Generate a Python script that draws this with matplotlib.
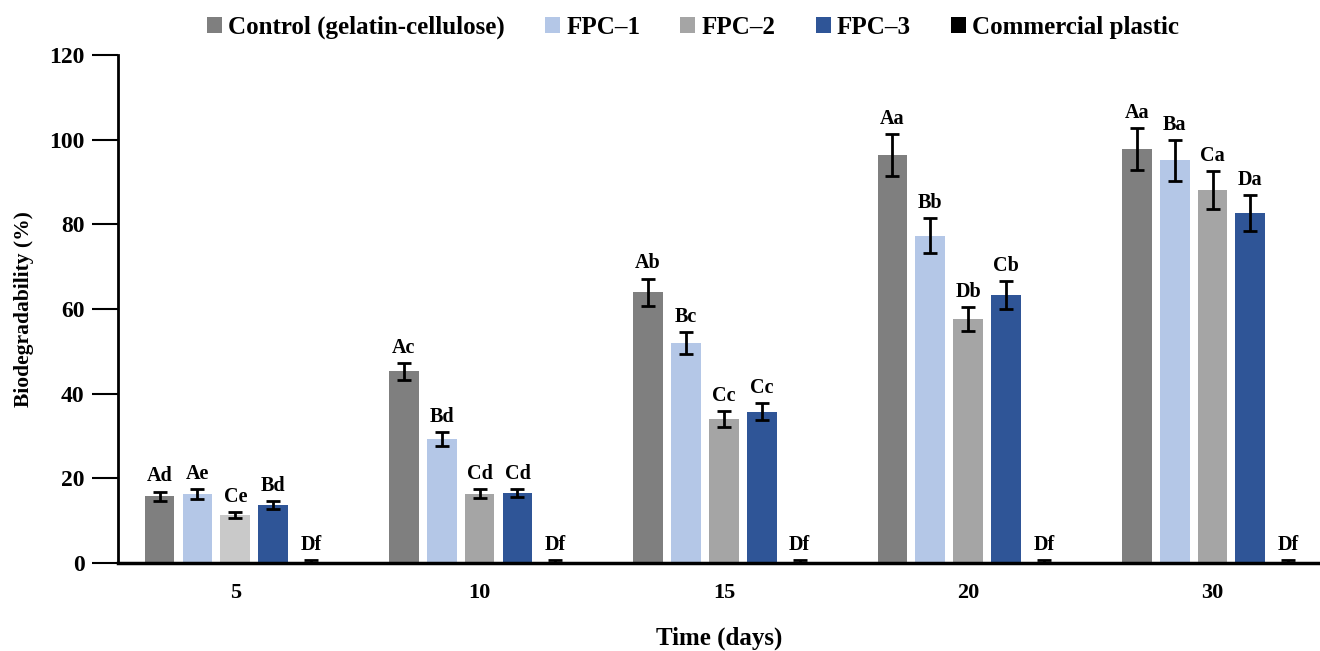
import numpy as np
import matplotlib.pyplot as plt
from matplotlib.patches import Patch

plt.rcParams['font.family'] = ['Liberation Serif', 'DejaVu Serif']
plt.rcParams['font.weight'] = 'bold'

days = ['5', '10', '15', '20', '30']
series = ['Control (gelatin-cellulose)', 'FPC\u20131', 'FPC\u20132', 'FPC\u20133', 'Commercial plastic']

control = [15.8, 45.3, 64.0, 96.4, 97.8]
fpc1 = [16.3, 29.3, 52.0, 77.3, 95.1]
fpc2 = [11.4, 16.4, 34.0, 57.7, 88.1]
fpc3 = [13.7, 16.6, 35.8, 63.4, 82.7]
commercial = [0.3, 0.3, 0.3, 0.3, 0.3]

control_err = [1.1, 2.0, 3.2, 4.9, 5.0]
fpc1_err = [1.1, 1.7, 2.6, 4.1, 4.9]
fpc2_err = [0.7, 1.0, 1.9, 2.8, 4.5]
fpc3_err = [0.9, 1.0, 2.0, 3.3, 4.3]
commercial_err = [0.4, 0.4, 0.4, 0.4, 0.4]

letters = [
    ['Ad', 'Ac', 'Ab', 'Aa', 'Aa'],
    ['Ae', 'Bd', 'Bc', 'Bb', 'Ba'],
    ['Ce', 'Cd', 'Cc', 'Db', 'Ca'],
    ['Bd', 'Cd', 'Cc', 'Cb', 'Da'],
    ['Df', 'Df', 'Df', 'Df', 'Df'],
]

values = [control, fpc1, fpc2, fpc3, commercial]
errors = [control_err, fpc1_err, fpc2_err, fpc3_err, commercial_err]
colors = ['#7f7f7f', '#b4c7e7', '#a5a5a5', '#2f5597', '#000000']

fig = plt.figure(figsize=(13.2, 6.51), dpi=100)
ax = fig.add_axes([0.0894, 0.135, 0.9106, 0.7805])

x = np.arange(len(days))
step = 0.155
width = 0.122

for i, (vals, errs, col) in enumerate(zip(values, errors, colors)):
    pos = x + (i - 2) * step
    bar_cols = [col] * len(days)
    if i == 2:
        bar_cols[0] = '#c9c9c9'  # lighter FPC-2 bar on day 5
    ax.bar(pos, vals, width, color=bar_cols, zorder=2)
    ax.errorbar(pos, vals, yerr=errs, fmt='none', ecolor='black',
                elinewidth=2, capsize=5, capthick=2, zorder=3)
    for p, v, e, t in zip(pos, vals, errs, letters[i]):
        ax.text(p, v + e + 1.2, t, ha='center', va='bottom',
                fontsize=14.5, fontweight='bold')

ax.set_xlim(-0.48, 4.44)
ax.set_ylim(0, 120)
ax.set_yticks(range(0, 121, 20))
ax.set_xticks(x)
ax.set_xticklabels(days)
ax.tick_params(axis='y', length=19, width=1.5, labelsize=17, direction='out', pad=5)
ax.tick_params(axis='x', length=0, labelsize=16, pad=14)
ax.spines['top'].set_visible(False)
ax.spines['right'].set_visible(False)
ax.spines['left'].set_linewidth(2)
ax.spines['bottom'].set_linewidth(2.5)

ax.set_ylabel('Biodegradability (%)', fontsize=15.5, fontweight='bold')
ax.yaxis.set_label_coords(-0.07, 0.5)
ax.set_xlabel('Time (days)', fontsize=18, fontweight='bold')
ax.xaxis.set_label_coords(0.5, -0.125)

handles = [Patch(facecolor=c, label=s) for c, s in zip(colors, series)]
fig.legend(handles=handles, loc='center', bbox_to_anchor=(0.525, 0.958), ncol=5,
           frameon=False, handlelength=0.6, handleheight=0.6, handletextpad=0.25,
           columnspacing=1.6, prop={'weight': 'bold', 'size': 18})

fig.savefig('out.png', dpi=100)
